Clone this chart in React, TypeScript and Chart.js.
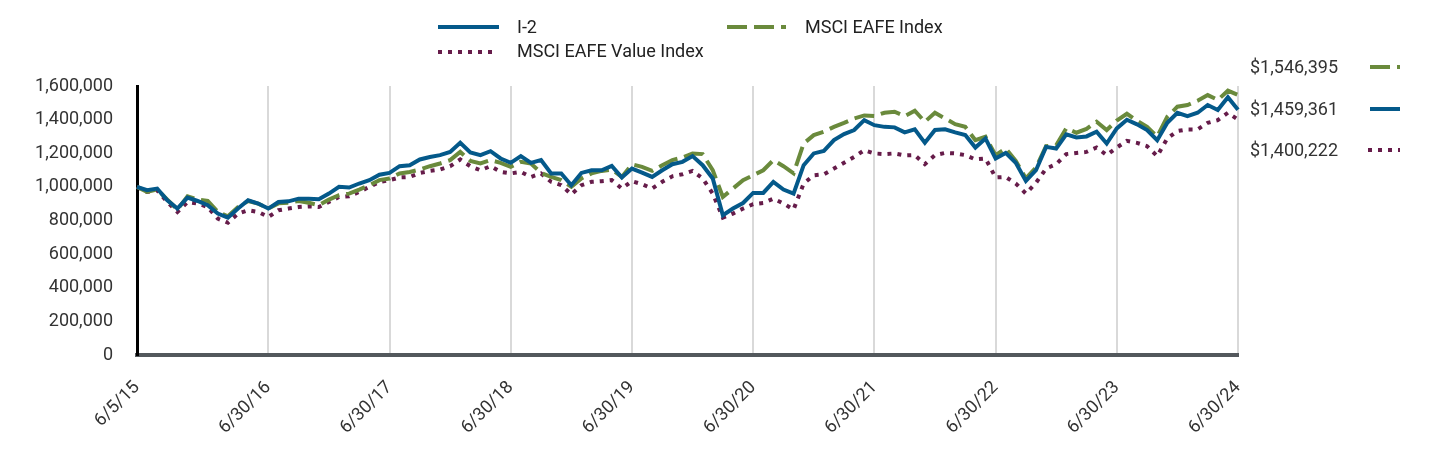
import React, { useEffect, useRef } from "react";
import { Chart, registerables } from "chart.js";

Chart.register(...registerables);

const dates: string[] = [
  "6/5/15",
  "6/30/15", "7/31/15", "8/31/15", "9/30/15", "10/31/15", "11/30/15", "12/31/15",
  "1/31/16", "2/29/16", "3/31/16", "4/30/16", "5/31/16", "6/30/16", "7/31/16", "8/31/16", "9/30/16", "10/31/16", "11/30/16", "12/31/16",
  "1/31/17", "2/28/17", "3/31/17", "4/30/17", "5/31/17", "6/30/17", "7/31/17", "8/31/17", "9/30/17", "10/31/17", "11/30/17", "12/31/17",
  "1/31/18", "2/28/18", "3/31/18", "4/30/18", "5/31/18", "6/30/18", "7/31/18", "8/31/18", "9/30/18", "10/31/18", "11/30/18", "12/31/18",
  "1/31/19", "2/28/19", "3/31/19", "4/30/19", "5/31/19", "6/30/19", "7/31/19", "8/31/19", "9/30/19", "10/31/19", "11/30/19", "12/31/19",
  "1/31/20", "2/29/20", "3/31/20", "4/30/20", "5/31/20", "6/30/20", "7/31/20", "8/31/20", "9/30/20", "10/31/20", "11/30/20", "12/31/20",
  "1/31/21", "2/28/21", "3/31/21", "4/30/21", "5/31/21", "6/30/21", "7/31/21", "8/31/21", "9/30/21", "10/31/21", "11/30/21", "12/31/21",
  "1/31/22", "2/28/22", "3/31/22", "4/30/22", "5/31/22", "6/30/22", "7/31/22", "8/31/22", "9/30/22", "10/31/22", "11/30/22", "12/31/22",
  "1/31/23", "2/28/23", "3/31/23", "4/30/23", "5/31/23", "6/30/23", "7/31/23", "8/31/23", "9/30/23", "10/31/23", "11/30/23", "12/31/23",
  "1/31/24", "2/29/24", "3/31/24", "4/30/24", "5/31/24", "6/30/24",
];

const tickLabels: string[] = [
  "6/5/15", "6/30/16", "6/30/17", "6/30/18", "6/30/19", "6/30/20", "6/30/21", "6/30/22", "6/30/23", "6/30/24",
];

const seriesNames: string[] = ["I-2", "MSCI EAFE Index", "MSCI EAFE Value Index"];

const i2Values: number[] = [
  1000000, 980000, 990000, 920000, 871000, 936000, 916000, 891000, 841000, 817000,
  871000, 920000, 901000, 871000, 910000, 914000, 930000, 930000, 926000, 960000,
  1000000, 996000, 1020000, 1040000, 1072000, 1083000, 1123000, 1129000, 1163000, 1178000,
  1189000, 1208000, 1262000, 1205000, 1189000, 1212000, 1169000, 1143000, 1183000, 1143000,
  1159000, 1080000, 1080000, 1010000, 1083000, 1099000, 1099000, 1125000, 1056000, 1109000,
  1085000, 1059000, 1099000, 1135000, 1149000, 1183000, 1129000, 1050000, 831000, 871000,
  904000, 964000, 964000, 1030000, 984000, 960000, 1129000, 1199000, 1214000, 1278000,
  1314000, 1338000, 1397000, 1367000, 1357000, 1354000, 1324000, 1342000, 1262000, 1338000,
  1342000, 1324000, 1308000, 1234000, 1288000, 1169000, 1202000, 1143000, 1035000, 1099000,
  1238000, 1228000, 1312000, 1294000, 1300000, 1328000, 1258000, 1348000, 1399000, 1372000,
  1338000, 1278000, 1381000, 1441000, 1421000, 1441000, 1487000, 1457000, 1533000, 1459361,
];

const eafeValues: number[] = [
  1000000, 970000, 985000, 924000, 865000, 944000, 924000, 916000, 851000, 825000,
  880000, 916000, 900000, 871000, 902000, 906000, 916000, 906000, 891000, 924000,
  950000, 960000, 984000, 1010000, 1040000, 1050000, 1080000, 1089000, 1103000, 1123000,
  1139000, 1159000, 1208000, 1155000, 1139000, 1159000, 1143000, 1119000, 1149000, 1139000,
  1083000, 1059000, 1040000, 1000000, 1050000, 1080000, 1095000, 1103000, 1059000, 1134000,
  1119000, 1095000, 1129000, 1159000, 1175000, 1199000, 1195000, 1099000, 940000, 990000,
  1040000, 1069000, 1099000, 1159000, 1123000, 1080000, 1258000, 1308000, 1328000, 1357000,
  1381000, 1407000, 1425000, 1421000, 1441000, 1447000, 1421000, 1453000, 1387000, 1441000,
  1407000, 1373000, 1357000, 1278000, 1298000, 1189000, 1228000, 1155000, 1050000, 1115000,
  1242000, 1248000, 1348000, 1322000, 1345000, 1387000, 1338000, 1395000, 1435000, 1393000,
  1357000, 1300000, 1417000, 1477000, 1487000, 1512000, 1546000, 1517000, 1572000, 1546395,
];

const valueIndexValues: number[] = [
  1000000, 970000, 980000, 910000, 851000, 910000, 901000, 880000, 811000, 787000,
  841000, 861000, 851000, 821000, 861000, 871000, 880000, 884000, 880000, 910000,
  940000, 944000, 970000, 1000000, 1028000, 1040000, 1056000, 1059000, 1083000, 1095000,
  1103000, 1123000, 1163000, 1123000, 1099000, 1123000, 1089000, 1080000, 1089000, 1059000,
  1080000, 1030000, 1010000, 956000, 1010000, 1030000, 1034000, 1040000, 990000, 1034000,
  1016000, 990000, 1030000, 1063000, 1075000, 1095000, 1050000, 960000, 817000, 841000,
  871000, 897000, 904000, 930000, 901000, 865000, 1020000, 1069000, 1075000, 1109000,
  1143000, 1178000, 1218000, 1199000, 1195000, 1199000, 1187000, 1189000, 1135000, 1189000,
  1202000, 1199000, 1189000, 1163000, 1169000, 1056000, 1059000, 1020000, 960000, 1024000,
  1109000, 1135000, 1195000, 1202000, 1208000, 1234000, 1189000, 1234000, 1274000, 1262000,
  1242000, 1183000, 1288000, 1332000, 1342000, 1342000, 1381000, 1397000, 1441000, 1400222,
];

const BLUE = "#04598a";
const GREEN = "#6a8a3c";
const PURPLE = "#661c4a";
const DASH_GREEN = [20, 7];
const DASH_PURPLE = [4, 6];

const fmt = (v: number) => Number(v).toLocaleString("en-US");

export default function App() {
  const ref = useRef<HTMLCanvasElement | null>(null);

  useEffect(() => {
    if (!ref.current) return;

    const drawSample = (
      ctx: CanvasRenderingContext2D,
      x1: number,
      x2: number,
      y: number,
      color: string,
      dash: number[]
    ) => {
      ctx.save();
      ctx.strokeStyle = color;
      ctx.lineWidth = 4;
      ctx.lineCap = "butt";
      ctx.setLineDash(dash);
      ctx.beginPath();
      ctx.moveTo(x1, y);
      ctx.lineTo(x2, y);
      ctx.stroke();
      ctx.restore();
    };

    const overlay = {
      id: "overlay",
      afterDraw(chart: any) {
        const ctx: CanvasRenderingContext2D = chart.ctx;
        ctx.save();
        // legend
        drawSample(ctx, 438, 499, 27, BLUE, []);
        drawSample(ctx, 727, 786, 27, GREEN, DASH_GREEN);
        drawSample(ctx, 438, 493, 52, PURPLE, DASH_PURPLE);
        ctx.fillStyle = "#222";
        ctx.font = "18px Roboto";
        ctx.textBaseline = "middle";
        ctx.textAlign = "left";
        ctx.fillText(seriesNames[0], 517, 28);
        ctx.fillText(seriesNames[1], 805, 28);
        ctx.fillText(seriesNames[2], 517, 52);
        // end values
        ctx.font = "18px Roboto";
        ctx.fillStyle = "#333";
        ctx.fillText("$" + fmt(eafeValues[eafeValues.length - 1]), 1250, 68);
        ctx.fillText("$" + fmt(i2Values[i2Values.length - 1]), 1250, 110);
        ctx.fillText("$" + fmt(valueIndexValues[valueIndexValues.length - 1]), 1250, 151);
        drawSample(ctx, 1370, 1400, 67, GREEN, DASH_GREEN);
        drawSample(ctx, 1370, 1400, 109, BLUE, []);
        drawSample(ctx, 1368, 1400, 150, PURPLE, DASH_PURPLE);
        ctx.restore();
      },
    };

    const chart = new Chart(ref.current, {
      type: "line",
      data: {
        labels: dates,
        datasets: [
          {
            label: seriesNames[0],
            data: i2Values,
            borderColor: BLUE,
            borderWidth: 4,
            pointRadius: 0,
            tension: 0,
            fill: false,
          },
          {
            label: seriesNames[1],
            data: eafeValues,
            borderColor: GREEN,
            borderWidth: 4,
            borderDash: DASH_GREEN,
            pointRadius: 0,
            tension: 0,
            fill: false,
          },
          {
            label: seriesNames[2],
            data: valueIndexValues,
            borderColor: PURPLE,
            borderWidth: 4,
            borderDash: DASH_PURPLE,
            pointRadius: 0,
            tension: 0,
            fill: false,
          },
        ],
      },
      options: {
        animation: false,
        responsive: false,
        events: [],
        layout: { padding: { top: 86, right: 202, left: 0, bottom: 0 } },
        plugins: {
          legend: { display: false },
          tooltip: { enabled: false },
        },
        scales: {
          x: {
            type: "category",
            afterBuildTicks: (s: any) => {
              s.ticks = s.ticks.filter((t: any) => tickLabels.includes(dates[t.value]));
            },
            afterFit: (s: any) => {
              s.height = 113;
            },
            grid: { color: "#d9d9d9", lineWidth: 2, drawTicks: false },
            border: { color: "#53585c", width: 4 },
            ticks: {
              autoSkip: false,
              minRotation: 45,
              maxRotation: 45,
              padding: 22,
              color: "#333",
              font: { family: "Roboto", size: 18 },
              callback: (v: any) => dates[v],
            },
          },
          y: {
            min: 0,
            max: 1600000,
            afterFit: (s: any) => {
              s.width = 137;
            },
            grid: { drawOnChartArea: false, drawTicks: false },
            border: { color: "#000", width: 3 },
            ticks: {
              stepSize: 200000,
              padding: 24,
              color: "#333",
              font: { family: "Roboto", size: 18 },
              callback: (v: any) => fmt(v),
            },
          },
        },
      },
      plugins: [overlay],
    });

    return () => chart.destroy();
  }, []);

  return (
    <div style={{ width: 1440, height: 468, position: "relative", overflow: "hidden" }}>
      <style>{`body{margin:0}`}</style>
      <canvas ref={ref} width={1440} height={468} style={{ display: "block" }} />
    </div>
  );
}
